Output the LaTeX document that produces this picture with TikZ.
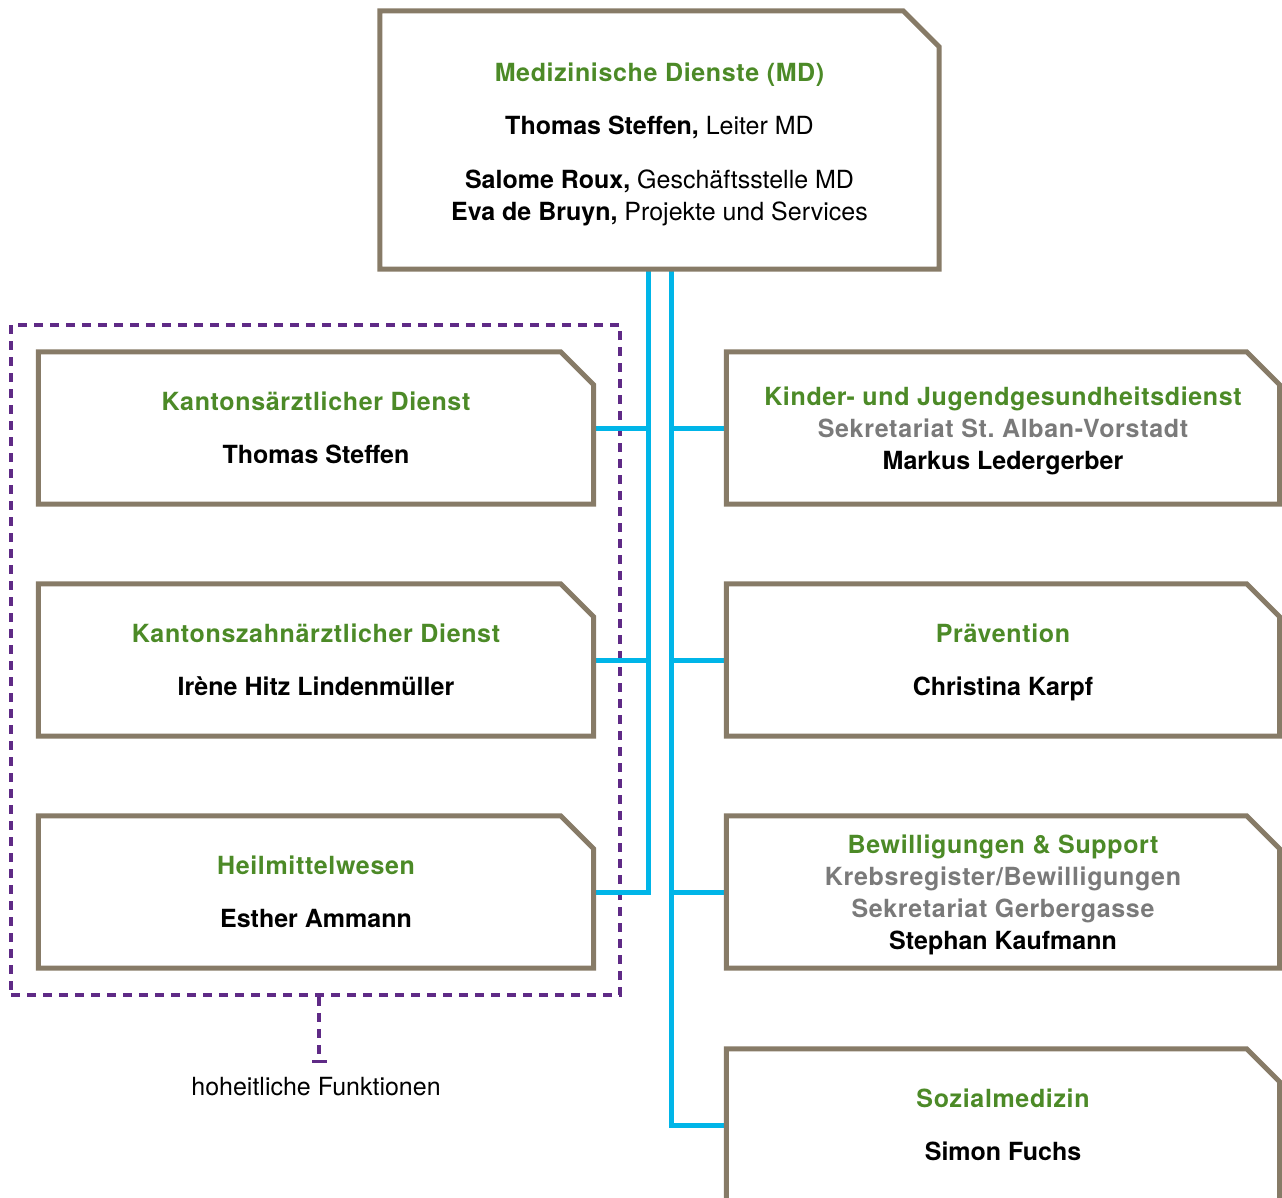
\documentclass[tikz,border=0pt]{standalone}
\usepackage{fontspec}
\setmainfont{TeX Gyre Heros}
\newfontfamily\trackfont[LetterSpace=2.6]{TeX Gyre Heros}
\usetikzlibrary{calc,arrows.meta}
\definecolor{frameC}{HTML}{877B67}
\definecolor{lineC}{HTML}{00B5E8}
\definecolor{greenC}{HTML}{4C8A27}
\definecolor{grayC}{HTML}{7A7A7A}
\definecolor{purpC}{HTML}{5F2A86}
\frenchspacing
\newcommand\hd[1]{{\color{greenC}\trackfont\bfseries #1}}
\newcommand\sbt[1]{{\color{grayC}\trackfont\bfseries #1}}
\newcommand\topstrut[1]{\rule{0pt}{#1}}
\newcommand\cutframe[2]{\draw[frame] (#1.south west) -- (#1.north west) -- ($(#1.north east)+(-#2,0)$) -- ($(#1.north east)+(0,#2)$) -- (#1.south east) -- cycle;}
\tikzset{
  unit/.style={inner sep=0pt, align=center, font=\fontsize{25}{32}\selectfont\frenchspacing},
  lbox/.style={unit, minimum width=555pt, minimum height=152pt},
  rbox/.style={unit, minimum width=553pt, minimum height=152pt},
  frame/.style={draw=frameC, line width=5pt, line join=miter},
  conn/.style={draw=lineC, line width=5pt},
  pdash/.style={draw=purpC, line width=3.5pt, dash pattern=on 9pt off 7pt},
}
\begin{document}
\begin{tikzpicture}[x=1pt,y=-1pt]
\useasboundingbox (0,0) rectangle (1282,1198);
\clip (0,0) rectangle (1282,1198);
% nodes
\node[unit, minimum width=559pt, minimum height=258pt] (md) at (659.5,140)
  {\topstrut{27.5pt}\hd{Medizinische Dienste (MD)}\\[21pt]
   \textbf{Thomas Steffen,} Leiter MD\\[22pt]
   \textbf{Salome Roux,} Geschäftsstelle MD\\
   \textbf{Eva de Bruyn,} Projekte und Services};
\node[lbox] (ka) at (316,428) {\hd{Kantonsärztlicher Dienst}\\[21pt]\textbf{Thomas Steffen}};
\node[lbox] (kz) at (316,660) {\hd{Kantonszahnärztlicher Dienst}\\[21pt]\textbf{Irène Hitz Lindenmüller}};
\node[lbox] (hm) at (316,892) {\hd{Heilmittelwesen}\\[21pt]\textbf{Esther Ammann}};
\node[rbox] (kj) at (1003,428) {\topstrut{23.5pt}\hd{Kinder- und Jugendgesundheitsdienst}\\\sbt{Sekretariat St. Alban-Vorstadt}\\\textbf{Markus Ledergerber}};
\node[rbox] (pr) at (1003,660) {\topstrut{23.5pt}\hd{Prävention}\\[21pt]\textbf{Christina Karpf}};
\node[rbox] (bw) at (1003,892) {\topstrut{23.5pt}\hd{Bewilligungen \& Support}\\\sbt{Krebsregister/Bewilligungen}\\\sbt{Sekretariat Gerbergasse}\\\textbf{Stephan Kaufmann}};
\node[rbox] (sm) at (1003,1125) {\hd{Sozialmedizin}\\[21pt]\textbf{Simon Fuchs}};
% group
\node[pdash, minimum width=609pt, minimum height=670pt, inner sep=0pt] (grp) at (315.6,660) {};
\coordinate (tee) at (319,1063);
\node[font=\fontsize{25}{30}\selectfont, anchor=base] (hf) at (316,1095) {hoheitliche Funktionen};
\draw[pdash, -{Bar[width=15pt, line width=3.5pt]}] (grp.south -| tee) -- (tee);
% connectors
\coordinate (tL) at ($(md.south)+(-11,0)$);
\coordinate (tR) at ($(md.south)+(11.5,0)$);
\draw[conn] (tL) |- (hm.east);
\draw[conn] (ka.east) -- (ka.east -| tL);
\draw[conn] (kz.east) -- (kz.east -| tL);
\draw[conn] (tR) |- (sm.west);
\draw[conn] (kj.west) -- (kj.west -| tR);
\draw[conn] (pr.west) -- (pr.west -| tR);
\draw[conn] (bw.west) -- (bw.west -| tR);
% frames
\cutframe{md}{36}
\cutframe{ka}{33}
\cutframe{kz}{33}
\cutframe{hm}{33}
\cutframe{kj}{33}
\cutframe{pr}{33}
\cutframe{bw}{33}
\cutframe{sm}{33}
\end{tikzpicture}
\end{document}
